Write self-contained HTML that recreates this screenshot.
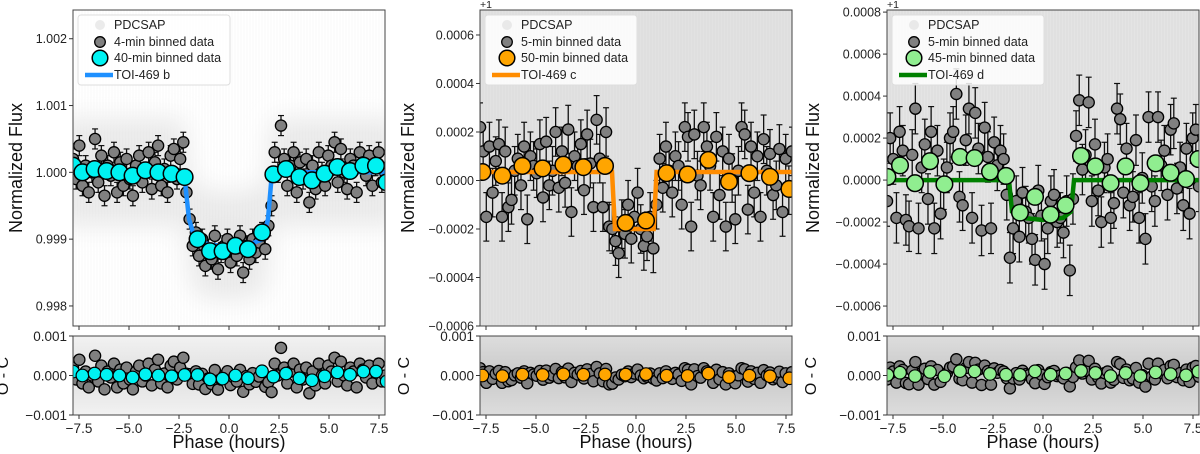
<!DOCTYPE html>
<html><head><meta charset="utf-8"><style>
html,body{margin:0;padding:0;background:#fff;}
svg{display:block;font-family:"Liberation Sans","DejaVu Sans",sans-serif;}
</style></head><body>
<svg id="fig" width="1200" height="454" viewBox="0 0 1200 454" xmlns="http://www.w3.org/2000/svg"></svg>
<script>
// ---------- DATA ----------
// Panel 1 (TOI-469 b), flux offsets in ppm relative to 1
const p1Grey = [200,-100,400,-200,100,-300,0,500,-150,250,-350,100,-50,300,-300,150,-200,200,-100,-350,100,250,-150,0,300,-250,150,400,-200,50,-300,250,350,-100,200,450,
-300,-700,
-1100,-900,-1250,-1000,-1400,-1150,-1300,-950,-1450,-1200,-1100,-1000,-1350,-1150,-1250,-950,-1500,-1100,-1300,-1000,-1200,-1050,-900,-1150,-800,
-500,300,
0,700,200,-200,100,300,-300,150,-100,200,-450,100,-250,300,0,-200,250,100,450,-150,350,0,-250,200,100,-300,300,150,-50,250,-200,100,300,-150,0];
const p1BinX = [-7.8,-7.33,-6.72,-6.12,-5.48,-4.82,-4.18,-3.53,-2.87,-2.22,-1.57,-0.95,-0.32,0.32,0.95,1.65,2.22,2.85,3.52,4.15,4.78,5.42,6.05,6.72,7.35,7.88];
const p1BinY = [100,0,50,20,0,-50,30,0,-20,-70,-1000,-1180,-1180,-1100,-1150,-900,-30,50,-70,-120,-20,80,20,100,100,-150];
const p1ModelX = [-7.8,-2.25,-2.0,-1.7,-1.0,0,1.0,1.7,1.95,2.15,7.8];
const p1ModelY = [0,0,-700,-1000,-1080,-1110,-1080,-1000,-700,0,0];
// Panel 2 (TOI-469 c)
const p2Grey = [220,120,-150,140,-50,80,150,-150,120,-110,-80,40,90,-20,140,-160,100,60,30,150,-70,160,-20,40,200,-30,120,-10,210,-130,100,60,150,-40,190,70,-110,250,90,-110,200,-190,
-200,-250,-300,-180,-220,-100,-240,-150,-50,-200,-270,-230,-150,-280,-100,
90,-30,140,40,-50,100,60,-100,220,180,-190,190,20,-20,220,140,60,-150,180,-60,120,-190,90,10,-160,40,220,190,-120,140,-50,100,-150,170,40,110,-60,-20,130,-130,90,-40,120];
const p2BinX = [-7.68,-6.68,-5.68,-4.67,-3.63,-2.63,-1.55,-0.52,0.5,1.53,2.58,3.62,4.65,5.67,6.7,7.67];
const p2BinY = [35,20,60,50,65,55,60,-175,-165,30,25,85,-5,30,15,-35];
const p2ModelX = [-7.8,-1.2,-1.05,0.88,1.03,7.8];
const p2ModelY = [35,35,-200,-200,35,35];
// Panel 3 (TOI-469 d)
const p3Grey = [-100,200,100,-180,230,140,-190,-220,120,340,-230,60,170,-90,230,-230,140,-160,-20,60,200,230,410,-80,-120,190,340,-180,320,150,-240,250,110,-230,180,70,140,100,-70,
-370,-230,-100,-270,-60,-150,-180,-280,-380,-50,-170,-400,-230,-100,-70,-200,-180,-250,-100,-430,-90,
210,380,50,120,370,-100,170,-50,-200,60,100,-180,-110,340,290,-60,150,-120,-80,190,-180,10,-280,300,-30,-100,300,70,140,-70,240,270,-40,60,-120,150,-160,200,240,-30];
const p3BinX = [-7.78,-7.15,-6.4,-5.65,-4.93,-4.15,-3.42,-2.65,-1.85,-1.15,-0.4,0.38,1.13,1.9,2.62,3.38,4.13,4.87,5.63,6.38,7.15,7.77];
const p3BinY = [15,70,-15,90,-20,110,105,40,20,-155,-80,-165,-120,115,65,-15,65,-15,80,35,5,100];
const p3ModelX = [-7.8,-1.7,-1.55,-1.0,0,1.0,1.4,1.55,7.8];
const p3ModelY = [0,0,-150,-180,-190,-180,-150,0,0];

const xTicks = [-7.5,-5.0,-2.5,0.0,2.5,5.0,7.5];
const xTickLabels = ["\u22127.5","\u22125.0","\u22122.5","0.0","2.5","5.0","7.5"];
const resTicks = [0.001,0,-0.001];
const resTickLabels = ["0.001","0.000","\u22120.001"];
const p1YTicks = [0.002,0.001,0,-0.001,-0.002];
const p1YLabels = ["1.002","1.001","1.000","0.999","0.998"];
const p2YTicks = [0.0006,0.0004,0.0002,0,-0.0002,-0.0004,-0.0006];
const p2YLabels = ["0.0006","0.0004","0.0002","0.0000","\u22120.0002","\u22120.0004","\u22120.0006"];
const p3YTicks = [0.0008,0.0006,0.0004,0.0002,0,-0.0002,-0.0004,-0.0006];
const p3YLabels = ["0.0008","0.0006","0.0004","0.0002","0.0000","\u22120.0002","\u22120.0004","\u22120.0006"];

// ---------- RENDER ----------
const NS = "http://www.w3.org/2000/svg";
const fig = document.getElementById("fig");
function mk(tag, parent, attrs){
  const e = document.createElementNS(NS, tag);
  for (const k in attrs) e.setAttribute(k, attrs[k]);
  parent.appendChild(e);
  return e;
}
function interp(xs, ys, x){
  if (x <= xs[0]) return ys[0];
  for (let i=1;i<xs.length;i++){
    if (x <= xs[i]){ const t=(x-xs[i-1])/(xs[i]-xs[i-1]); return ys[i-1]+t*(ys[i]-ys[i-1]); }
  }
  return ys[ys.length-1];
}

const panels = [
 {id:"b", left:73, grey:p1Grey, binX:p1BinX, binY:p1BinY, mX:p1ModelX, mY:p1ModelY, ymin:-0.0023, ymax:0.00243,
  yt:p1YTicks, yl:p1YLabels, err:150, color:"#00f2f2", line:"#1e90ff", gName:"4-min binned data", bName:"40-min binned data", pName:"TOI-469 b",
  offset:false, ylabX:22, ocX:8, bg:"#ffffff"},
 {id:"c", left:480, grey:p2Grey, binX:p2BinX, binY:p2BinY, mX:p2ModelX, mY:p2ModelY, ymin:-0.0006, ymax:0.000703,
  yt:p2YTicks, yl:p2YLabels, err:100, color:"#ffa500", line:"#ff8c00", gName:"5-min binned data", bName:"50-min binned data", pName:"TOI-469 c",
  offset:true, ylabX:414, ocX:409, bg:"#e2e2e2"},
 {id:"d", left:887, grey:p3Grey, binX:p3BinX, binY:p3BinY, mX:p3ModelX, mY:p3ModelY, ymin:-0.000695, ymax:0.00081,
  yt:p3YTicks, yl:p3YLabels, err:120, color:"#90ee90", line:"#008000", gName:"5-min binned data", bName:"45-min binned data", pName:"TOI-469 d",
  offset:true, ylabX:819, ocX:816, bg:"#e4e4e4"}
];

const W = 312, TOP = 10, BOT = 326, RTOP = 336, RBOT = 415;

panels.forEach(function(P, pi){
  const g = mk("g", fig, {});
  
  
  const sx = function(h){ return P.left + (h + 7.8) / 15.6 * W; };
  const sy = function(v){ return BOT - (v - P.ymin) / (P.ymax - P.ymin) * (BOT - TOP); };
  const ry = function(v){ return RBOT - (v + 0.001) / 0.002 * (RBOT - RTOP); };
  const clipId = "clipm" + pi, clipR = "clipr" + pi;
  const defs = mk("defs", g, {});
  const c1 = mk("clipPath", defs, {id:clipId}); mk("rect", c1, {x:P.left, y:TOP, width:W, height:BOT-TOP});
  const c2 = mk("clipPath", defs, {id:clipR}); mk("rect", c2, {x:P.left, y:RTOP, width:W, height:RBOT-RTOP});
  const gr = mk("linearGradient", defs, {id:"rg"+pi, x1:0, y1:0, x2:0, y2:1});
  mk("stop", gr, {offset:"0", "stop-color": pi===0 ? "#f2f2f2" : "#dddddd"});
  mk("stop", gr, {offset:"0.5", "stop-color": pi===0 ? "#e0e0e0" : "#c9c9c9"});
  mk("stop", gr, {offset:"1", "stop-color": pi===0 ? "#f2f2f2" : "#dddddd"});
  const bl = mk("filter", defs, {id:"blur"+pi, x:"-10%", y:"-30%", width:"120%", height:"160%"});
  mk("feGaussianBlur", bl, {stdDeviation:12});

  // ---- main axes ----
  const main = mk("g", g, {"clip-path":"url(#"+clipId+")"});
  const bg = mk("rect", main, {x:P.left, y:TOP, width:W, height:BOT-TOP, fill:P.bg});
  
  
  if (pi === 0) {
    let up = "", dn = "";
    for (let h = -8.5; h <= 8.51; h += 0.2) {
      const m = interp(P.mX, P.mY, h) * 1e-6;
      up += (up ? "L" : "M") + sx(h).toFixed(1) + "," + sy(m + 0.0008).toFixed(1);
      dn = "L" + sx(h).toFixed(1) + "," + sy(m - 0.0008).toFixed(1) + dn;
    }
    const band = mk("path", main, {d: up + dn + "Z", fill:"#e8e8e8", filter:"url(#blur0)"});
    
    
  }
  for (let x = P.left; x < P.left + W; x += 3) {
    mk("line", main, {x1:x, x2:x, y1:TOP, y2:BOT, stroke: pi===0 ? "#f3f3f3" : "#d6d6d6", "stroke-width":0.8, opacity:0.6});
  }
  let md = "";
  P.mX.forEach(function(h, i){ md += (i ? "L" : "M") + sx(h).toFixed(1) + "," + sy(P.mY[i]*1e-6).toFixed(1); });
  const step = 15.6 / (P.grey.length - 1);
  const gg = mk("g", main, {});
  
  
  P.grey.forEach(function(v, i){
    const h = -7.8 + i * step, x = sx(h);
    const y1 = sy((v+P.err)*1e-6), y2 = sy((v-P.err)*1e-6);
    mk("line", gg, {x1:x, x2:x, y1:y1, y2:y2, stroke:"#111", "stroke-width":1.3});
    mk("line", gg, {x1:x-3, x2:x+3, y1:y1, y2:y1, stroke:"#111", "stroke-width":1.2});
    mk("line", gg, {x1:x-3, x2:x+3, y1:y2, y2:y2, stroke:"#111", "stroke-width":1.2});
  });
  P.grey.forEach(function(v, i){
    const h = -7.8 + i * step;
    const c = mk("circle", gg, {cx:sx(h), cy:sy(v*1e-6), r:5.6, fill:"#808080", stroke:"#000", "stroke-width":1.3});
    
    
  });
  const ml = mk("path", main, {d:md, fill:"none", stroke:P.line, "stroke-width":4.5});
  
  
  P.binX.forEach(function(h, i){
    const c = mk("circle", main, {cx:sx(h), cy:sy(P.binY[i]*1e-6), r:8.3, fill:P.color, stroke:"#000", "stroke-width":1.5});
    
    
  });
  const fr = mk("rect", g, {x:P.left, y:TOP, width:W, height:BOT-TOP, fill:"none", stroke:"#444", "stroke-width":1});
  
  

  P.yt.forEach(function(v, i){
    const y = sy(v);
    mk("line", g, {x1:P.left-4, x2:P.left, y1:y, y2:y, stroke:"#333", "stroke-width":1});
    const t = mk("text", g, {x:P.left-6, y:y+4.5, "text-anchor":"end", "font-size":12.5, fill:"#222"});
    t.textContent = P.yl[i];
    
    
  });
  xTicks.forEach(function(h){
    mk("line", g, {x1:sx(h), x2:sx(h), y1:BOT, y2:BOT+4, stroke:"#333", "stroke-width":1});
  });
  if (P.offset) {
    const o = mk("text", g, {x:P.left, y:8, "font-size":10.5, fill:"#222"});
    o.textContent = "+1";
    
    
  }
  const yl = mk("text", g, {x:P.ylabX, y:168, "text-anchor":"middle", "font-size":18, fill:"#111", transform:"rotate(-90 "+P.ylabX+" 168)"});
  yl.textContent = "Normalized Flux";
  
  

  const lg = mk("g", g, {});
  
  
  const lx = P.left + 5;
  mk("rect", lg, {x:lx, y:15, width:152, height:70, rx:3, fill:"#fff", "fill-opacity":0.85, stroke:"#ddd", "stroke-width":1});
  mk("circle", lg, {cx:lx+22, cy:25, r:5, fill:"#ddd", "fill-opacity":0.6});
  mk("circle", lg, {cx:lx+22, cy:42, r:5.3, fill:"#808080", stroke:"#000", "stroke-width":1.3});
  mk("circle", lg, {cx:lx+22, cy:58, r:7.8, fill:P.color, stroke:"#000", "stroke-width":1.5});
  mk("line", lg, {x1:lx+7, x2:lx+35, y1:75, y2:75, stroke:P.line, "stroke-width":4.5});
  [["PDCSAP",29],[P.gName,46],[P.bName,62],[P.pName,79]].forEach(function(r){
    const t = mk("text", lg, {x:lx+36, y:r[1], "font-size":12.5, fill:"#222"});
    t.textContent = r[0];
    
    
  });

  // ---- residual axes ----
  const res = mk("g", g, {"clip-path":"url(#"+clipR+")"});
  
  
  mk("rect", res, {x:P.left, y:RTOP, width:W, height:RBOT-RTOP, fill:"url(#rg"+pi+")"});
  P.grey.forEach(function(v, i){
    const h = -7.8 + i * step;
    const r = (v - interp(P.mX, P.mY, h)) * 1e-6;
    const x = sx(h);
    mk("line", res, {x1:x, x2:x, y1:ry(r+P.err*1e-6), y2:ry(r-P.err*1e-6), stroke:"#111", "stroke-width":1.2});
  });
  P.grey.forEach(function(v, i){
    const h = -7.8 + i * step;
    const r = (v - interp(P.mX, P.mY, h)) * 1e-6;
    const c = mk("circle", res, {cx:sx(h), cy:ry(r), r:5.6, fill:"#808080", stroke:"#000", "stroke-width":1.3});
    
    
  });
  P.binX.forEach(function(h, i){
    const r = (P.binY[i] - interp(P.mX, P.mY, h)) * 1e-6;
    const c = mk("circle", res, {cx:sx(h), cy:ry(r), r:6.3, fill:P.color, stroke:"#000", "stroke-width":1.2});
    
    
  });
  mk("rect", g, {x:P.left, y:RTOP, width:W, height:RBOT-RTOP, fill:"none", stroke:"#444", "stroke-width":1});
  resTicks.forEach(function(v, i){
    const y = ry(v);
    mk("line", g, {x1:P.left-4, x2:P.left, y1:y, y2:y, stroke:"#333", "stroke-width":1});
    const t = mk("text", g, {x:P.left-6, y:y+5, "text-anchor":"end", "font-size":13.5, fill:"#222"});
    t.textContent = resTickLabels[i];
    
    
  });
  xTicks.forEach(function(h, i){
    mk("line", g, {x1:sx(h), x2:sx(h), y1:RBOT, y2:RBOT+4, stroke:"#333", "stroke-width":1});
    const t = mk("text", g, {x:sx(h), y:RBOT+18, "text-anchor":"middle", "font-size":13.5, fill:"#222"});
    t.textContent = xTickLabels[i];
    
    
  });
  const oc = mk("text", g, {x:P.ocX, y:376, "text-anchor":"middle", "font-size":16, fill:"#111", transform:"rotate(-90 "+P.ocX+" 376)"});
  oc.textContent = "O - C";
  
  
  const xl = mk("text", g, {x:sx(0), y:448, "text-anchor":"middle", "font-size":18, fill:"#111"});
  xl.textContent = "Phase (hours)";
  
  
});
</script>
</body></html>
